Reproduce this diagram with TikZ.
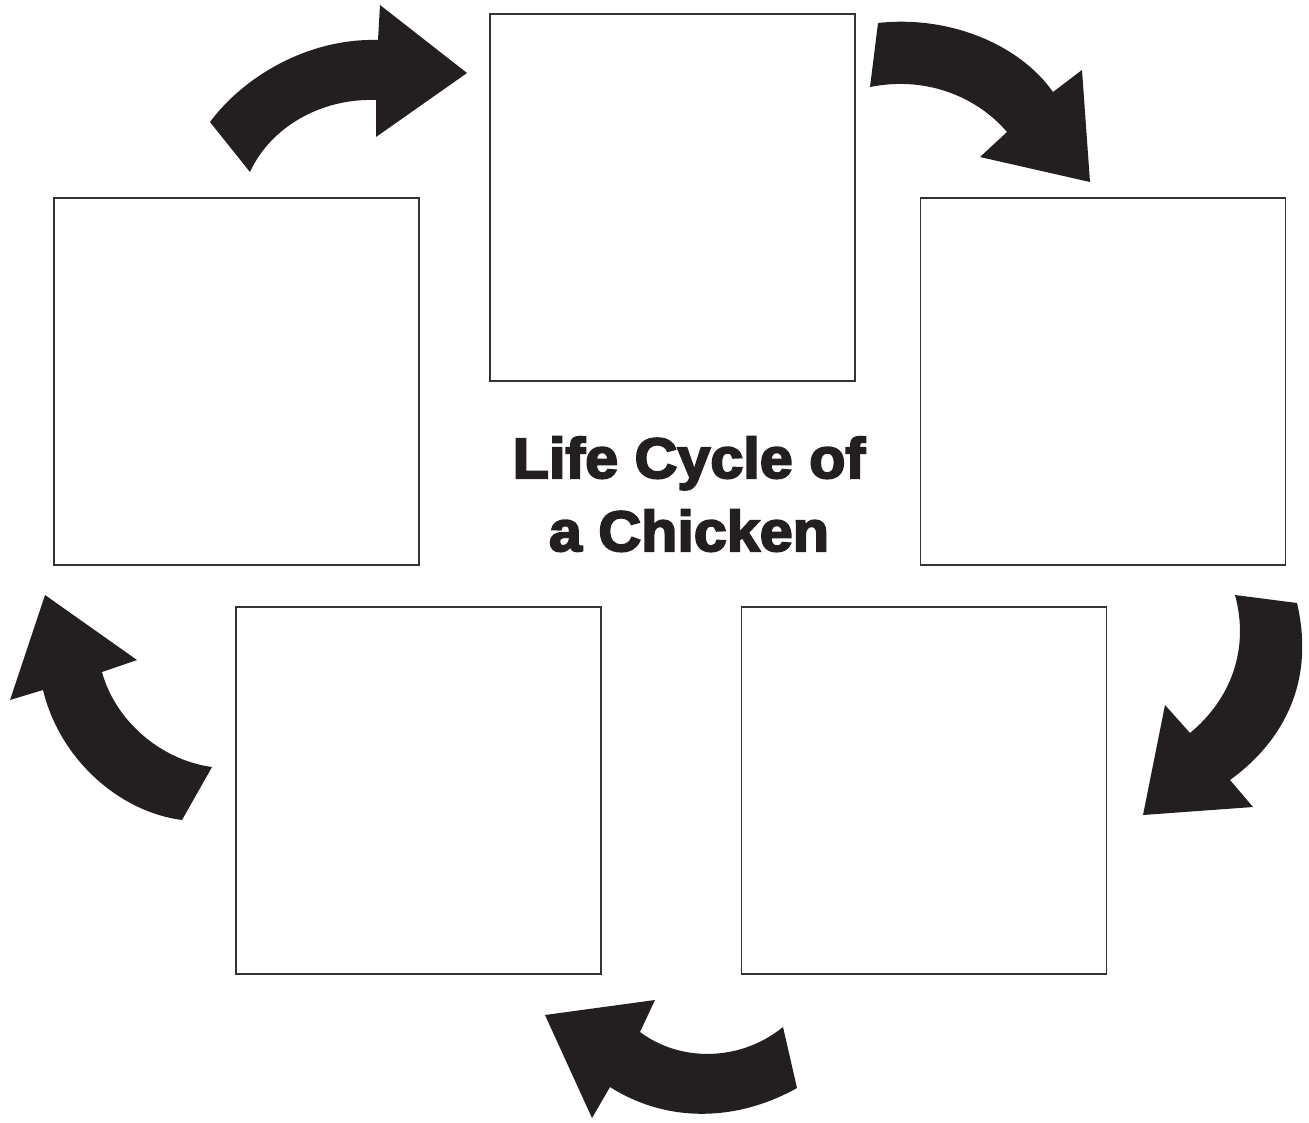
\documentclass[tikz,border=0pt]{standalone}
\usepackage{fontspec}
\setmainfont{Liberation Sans}
\newfontfamily\titlefont[FakeBold=3.5, FakeStretch=1.04]{Liberation Sans Bold}
\definecolor{arrowblack}{HTML}{231F20}
\tikzset{
  stagebox/.style={draw=black!80, line width=1.6pt, fill=white, inner sep=0pt,
    minimum width=365pt, minimum height=367pt},
  cyclearrow/.style={fill=arrowblack, draw=none},
  titletext/.style={font=\titlefont\fontsize{57}{73}\selectfont, text=arrowblack,
    anchor=base, inner sep=0pt}
}
\begin{document}
\begin{tikzpicture}[x=1pt, y=-1pt]
    \useasboundingbox (0,0) rectangle (1309,1122);
    % stage boxes
    \node[stagebox] (egg)    at (672.5,197.5) {};
    \node[stagebox] (chick)  at (1103,381.5) {};
    \node[stagebox] (young)  at (924,790.5) {};
    \node[stagebox] (adult)  at (418.5,790.5) {};
    \node[stagebox] (hen)    at (236.5,381.5) {};
    % title
    \node[titletext] (title1) at (689,478) {Life Cycle of};
    \node[titletext] (title2) at (689,551) {a Chicken};
    % arrows, clockwise from top left
    \fill[cyclearrow] (210,122) .. controls (245,75) and (310,38) .. (378,40)
      -- (380,5) -- (467,73) -- (376,137) -- (376,100)
      .. controls (320,98) and (270,128) .. (250,172) -- cycle;
    \fill[cyclearrow] (878,23) .. controls (950,15) and (1020,45) .. (1053,92)
      -- (1082,70) -- (1090,182) -- (980,157) -- (1007,132)
      .. controls (980,100) and (930,75) .. (870,87) -- cycle;
    \fill[cyclearrow] (1235,595) -- (1297,603)
      .. controls (1315,680) and (1285,740) .. (1230,780)
      -- (1253,807) -- (1143,815) -- (1165,705) -- (1190,733)
      .. controls (1230,700) and (1250,650) .. (1235,595) -- cycle;
    \fill[cyclearrow] (783,1027) .. controls (740,1062) and (680,1062) .. (640,1032)
      -- (655,1000) -- (545,1015) -- (592,1118) -- (610,1087)
      .. controls (670,1125) and (740,1120) .. (797,1088) -- cycle;
    \fill[cyclearrow] (212,767) .. controls (160,760) and (115,720) .. (102,672)
      -- (137,660) -- (45,595) -- (10,700) -- (43,690)
      .. controls (60,760) and (120,812) .. (182,820) -- cycle;
\end{tikzpicture}
\end{document}
